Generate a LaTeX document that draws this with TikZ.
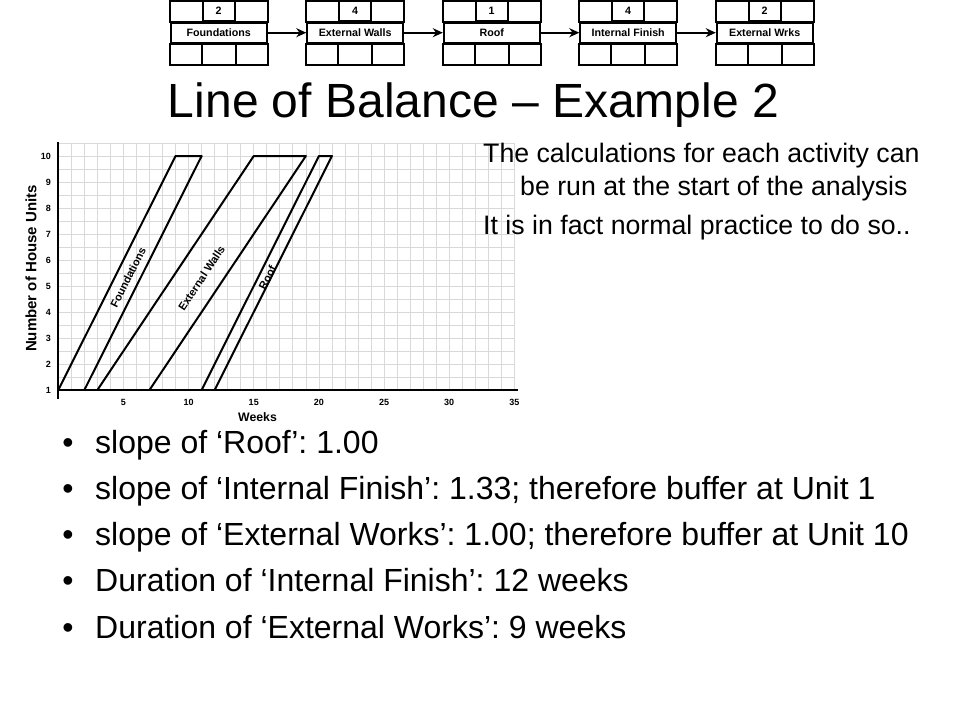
\documentclass[tikz,border=0pt]{standalone}
\usepackage{fontspec}
\setmainfont{Liberation Sans}
\usetikzlibrary{positioning,arrows.meta}
\frenchspacing

\tikzset{
  actbox/.style={draw,line width=1.8pt,minimum width=96pt,minimum height=20pt,inner sep=0pt,font=\fontsize{10.7}{12}\selectfont\bfseries},
  numcell/.style={draw,line width=1.8pt,minimum width=32pt,minimum height=21pt,inner sep=0pt,font=\fontsize{10.7}{12}\selectfont\bfseries},
  link/.style={line width=1.7pt,-{Stealth[length=10pt,width=9pt]}},
  gridline/.style={gray!30,line width=0.7pt},
  axisline/.style={black,line width=2.2pt},
  lobline/.style={black,line width=2pt,line join=round},
  ticklabel/.style={inner sep=0pt,font=\fontsize{9}{10}\selectfont\bfseries},
  actlabel/.style={inner sep=0pt,font=\fontsize{11}{12}\selectfont\bfseries},
  sidetext/.style={anchor=base west,inner sep=0pt,font=\fontsize{26.7}{30}\selectfont},
  bullettext/.style={anchor=base west,inner sep=0pt,font=\fontsize{32}{36}\selectfont}
}

\begin{document}
\begin{tikzpicture}[x=1pt,y=-1pt]
\useasboundingbox (0,0) rectangle (960,720);
\fill[white] (0,0) rectangle (960,720);

% activity sequence
\node[actbox] (fnd) at (218.7,32.7) {Foundations};
\node[actbox] (ewl) at (355.2,32.7) {External Walls};
\node[actbox] (rof) at (491.7,32.7) {Roof};
\node[actbox] (inf) at (628.2,32.7) {Internal Finish};
\node[actbox] (ewk) at (764.7,32.7) {External Wrks};
\node[numcell,above=0pt of fnd] (fndn) {2};
\node[numcell,above=0pt of ewl] (ewln) {4};
\node[numcell,above=0pt of rof] (rofn) {1};
\node[numcell,above=0pt of inf] (infn) {4};
\node[numcell,above=0pt of ewk] (ewkn) {2};
\foreach \a in {fnd,ewl,rof,inf,ewk} {
  \draw[line width=1.8pt] ([yshift=21pt]\a.north west) rectangle (\a.north east);
  \draw[line width=1.8pt] (\a.south west) rectangle ([yshift=-21pt]\a.south east);
  \draw[line width=1.8pt] ([xshift=32pt]\a.south west) -- ++(0pt,-21pt);
  \draw[line width=1.8pt] ([xshift=-32pt]\a.south east) -- ++(0pt,-21pt);
}
\draw[link] (fnd) -- (ewl);
\draw[link] (ewl) -- (rof);
\draw[link] (rof) -- (inf);
\draw[link] (inf) -- (ewk);

\node[anchor=base,inner sep=0pt,font=\fontsize{48}{52}\selectfont] (title) at (473.5,117) {Line of Balance – Example 2};

% line of balance chart
\begin{scope}[shift={(58.3pt,-416pt)},x=13.03pt,y=26pt]
\draw[gridline,xstep=1,ystep=0.5] (0,1) grid (35,10.5);
\draw[axisline] (0,0.65) -- (0,10.54);
\draw[axisline] (0,1) -- (35.3,1);
\draw[lobline] (0,1) -- (9,10) -- (11,10) -- (2,1);
\draw[lobline] (3,1) -- (15,10) -- (19,10) -- (7,1);
\draw[lobline] (11,1) -- (20,10) -- (21,10) -- (12,1);
\node[actlabel,rotate=63.4] (fndlab) at (5.35,5.32) {Foundations};
\node[actlabel,rotate=56.3] (ewllab) at (10.99,5.30) {External Walls};
\node[actlabel,rotate=63.4] (roflab) at (16.04,5.32) {Roof};
\foreach \u in {1,...,10}
  \node[ticklabel,anchor=east] at (-0.55,\u) {\u};
\foreach \w in {5,10,...,35}
  \node[ticklabel] at (\w,0.54) {\w};
\end{scope}
\node[inner sep=0pt,rotate=90,font=\fontsize{15}{16}\selectfont\bfseries] (ylab) at (31,268.5) {Number of House Units};
\node[inner sep=0pt,font=\fontsize{12.3}{14}\selectfont\bfseries] (xlab) at (257.5,416.7) {Weeks};

% notes
\node[sidetext] (note1) at (483,162.7) {The calculations for each activity can};
\node[sidetext] (note2) at (520,195) {be run at the start of the analysis};
\node[sidetext] (note3) at (483,234) {It is in fact normal practice to do so..};

\node[anchor=base,inner sep=0pt,font=\fontsize{32}{36}\selectfont] (dot1) at (68,453) {•};
\node[anchor=base,inner sep=0pt,font=\fontsize{32}{36}\selectfont] (dot2) at (68,499.3) {•};
\node[anchor=base,inner sep=0pt,font=\fontsize{32}{36}\selectfont] (dot3) at (68,545.6) {•};
\node[anchor=base,inner sep=0pt,font=\fontsize{32}{36}\selectfont] (dot4) at (68,591.9) {•};
\node[anchor=base,inner sep=0pt,font=\fontsize{32}{36}\selectfont] (dot5) at (68,638.2) {•};
\node[bullettext] (item1) at (95,453) {slope of ‘Roof’: 1.00};
\node[bullettext] (item2) at (95,499.3) {slope of ‘Internal Finish’: 1.33; therefore buffer at Unit 1};
\node[bullettext] (item3) at (95,545.6) {slope of ‘External Works’: 1.00; therefore buffer at Unit 10};
\node[bullettext] (item4) at (95,591.9) {Duration of ‘Internal Finish’: 12 weeks};
\node[bullettext] (item5) at (95,638.2) {Duration of ‘External Works’: 9 weeks};
\end{tikzpicture}
\end{document}
